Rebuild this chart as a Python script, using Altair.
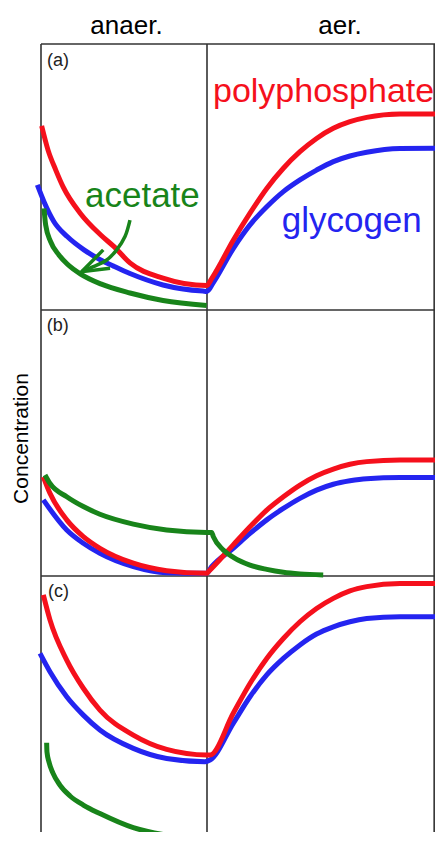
import altair as alt
import pandas as pd

# ---------------- data (x: time, anaerobic 0..1, aerobic 1..2.37; y: concentration within a panel, 0..1)
PLOT_W = 394
PLOT_H = 788
XMAX = PLOT_W / 166          # the anaerobic phase is 166 px wide
YMIN = 3 - PLOT_H / 266      # every panel is 266 px tall; the figure is cut at the bottom

a_poly_x = [0.004, 0.042, 0.089, 0.134, 0.235, 0.36, 0.44, 0.536, 0.735, 0.998, 1.03, 1.159, 1.259, 1.36, 1.46, 1.56, 1.66, 1.761, 1.861, 1.962, 2.163, 2.414]
a_poly_y = [0.692, 0.602, 0.526, 0.462, 0.365, 0.282, 0.238, 0.177, 0.120, 0.092, 0.120, 0.263, 0.364, 0.457, 0.533, 0.595, 0.645, 0.683, 0.708, 0.724, 0.737, 0.737]
a_glyc_x = [-0.022, 0.018, 0.078, 0.158, 0.259, 0.36, 0.44, 0.536, 0.735, 0.976, 1.0, 1.04, 1.159, 1.259, 1.36, 1.46, 1.56, 1.66, 1.761, 1.861, 1.962, 2.163, 2.383]
a_glyc_y = [0.470, 0.407, 0.332, 0.276, 0.226, 0.188, 0.164, 0.137, 0.094, 0.071, 0.070, 0.105, 0.232, 0.320, 0.388, 0.445, 0.489, 0.526, 0.558, 0.579, 0.593, 0.607, 0.608]
a_acet_x = [0.018, 0.028, 0.058, 0.108, 0.158, 0.239, 0.36, 0.536, 0.735, 0.998]
a_acet_y = [0.382, 0.320, 0.257, 0.207, 0.173, 0.135, 0.098, 0.064, 0.036, 0.017]

b_poly_x = [0.014, 0.054, 0.155, 0.255, 0.355, 0.556, 0.757, 0.998, 1.008, 1.158, 1.259, 1.36, 1.46, 1.56, 1.66, 1.761, 1.861, 1.962, 2.163, 2.414]
b_poly_y = [0.373, 0.311, 0.211, 0.148, 0.104, 0.048, 0.020, 0.010, 0.016, 0.117, 0.185, 0.248, 0.298, 0.342, 0.377, 0.402, 0.420, 0.430, 0.436, 0.436]
b_glyc_x = [0.014, 0.155, 0.255, 0.355, 0.556, 0.757, 0.998, 1.028, 1.158, 1.259, 1.36, 1.46, 1.56, 1.66, 1.761, 1.861, 1.962, 2.163, 2.393]
b_glyc_y = [0.286, 0.173, 0.123, 0.085, 0.035, 0.012, 0.010, 0.035, 0.104, 0.160, 0.211, 0.254, 0.292, 0.323, 0.345, 0.358, 0.366, 0.370, 0.370]
b_acet_x = [0.024, 0.054, 0.155, 0.255, 0.355, 0.556, 0.757, 0.998, 1.028, 1.038, 1.098, 1.159, 1.259, 1.36, 1.46, 1.56, 1.70]
b_acet_y = [0.380, 0.348, 0.298, 0.261, 0.232, 0.195, 0.173, 0.164, 0.164, 0.148, 0.098, 0.070, 0.041, 0.025, 0.014, 0.008, 0.004]

c_poly_x = [0.014, 0.054, 0.155, 0.255, 0.355, 0.556, 0.757, 0.998, 1.018, 1.158, 1.259, 1.36, 1.46, 1.56, 1.66, 1.761, 1.861, 1.962, 2.163, 2.414]
c_poly_y = [0.929, 0.835, 0.684, 0.578, 0.496, 0.402, 0.348, 0.327, 0.327, 0.484, 0.596, 0.690, 0.765, 0.828, 0.878, 0.916, 0.944, 0.960, 0.972, 0.972]
c_glyc_x = [-0.006, 0.054, 0.155, 0.255, 0.355, 0.556, 0.757, 0.988, 1.018, 1.158, 1.259, 1.36, 1.46, 1.56, 1.66, 1.761, 1.861, 1.962, 2.163, 2.393]
c_glyc_y = [0.709, 0.640, 0.546, 0.477, 0.421, 0.352, 0.314, 0.302, 0.308, 0.446, 0.546, 0.628, 0.690, 0.741, 0.782, 0.809, 0.828, 0.840, 0.847, 0.847]
c_acet_x = [0.034, 0.036, 0.048, 0.072, 0.114, 0.175, 0.255, 0.355, 0.556, 0.757, 0.998]
c_acet_y = [0.373, 0.338, 0.301, 0.259, 0.214, 0.173, 0.139, 0.107, 0.054, 0.026, 0.014]

# arrow in panel (a) pointing at the acetate curve
arrow_shaft_x = [0.536, 0.506, 0.456, 0.396, 0.315, 0.245]
arrow_shaft_y = [0.338, 0.276, 0.226, 0.188, 0.163, 0.144]
arrow_head_x = [0.375, 0.245, 0.416]
arrow_head_y = [0.226, 0.144, 0.157]

panel_names = ["a", "b", "c"]
panel_offsets = [2, 1, 0]
panel_label_x = [0.036, 0.034, 0.042]
panel_label_y = [0.936, 0.938, 0.938]

phase_labels = ["anaer.", "aer."]
phase_label_x = [0.512, 1.798]

series_names = ["glycogen", "polyphosphate", "acetate"]
series_colors = ["#2424f0", "#f5101c", "#18841a"]

big_labels = ["polyphosphate", "glycogen", "acetate"]
big_label_x = [1.036, 1.450, 0.265]
big_label_y = [0.783, 0.294, 0.388]

FONT = "Liberation Sans"
FRAME = "#333333"

curves = {
    ("a", "polyphosphate"): (a_poly_x, a_poly_y),
    ("a", "glycogen"): (a_glyc_x, a_glyc_y),
    ("a", "acetate"): (a_acet_x, a_acet_y),
    ("b", "polyphosphate"): (b_poly_x, b_poly_y),
    ("b", "glycogen"): (b_glyc_x, b_glyc_y),
    ("b", "acetate"): (b_acet_x, b_acet_y),
    ("c", "polyphosphate"): (c_poly_x, c_poly_y),
    ("c", "glycogen"): (c_glyc_x, c_glyc_y),
    ("c", "acetate"): (c_acet_x, c_acet_y),
}
offset_of = dict(zip(panel_names, panel_offsets))
color_of = dict(zip(series_names, series_colors))

rows = []
for (p, s), (xs, ys) in curves.items():
    for i, (xv, yv) in enumerate(zip(xs, ys)):
        rows.append({"key": p + s, "panel": p, "series": s, "x": xv, "y": offset_of[p] + yv, "i": i})
curve_df = pd.DataFrame(rows)

xscale = alt.Scale(domain=[0, XMAX], nice=False, zero=False)
yscale = alt.Scale(domain=[YMIN, 3], nice=False, zero=False)
x_axis = alt.Axis(orient="top", values=phase_label_x, title=None, grid=False, domain=False, ticks=False,
                  labelExpr="datum.value < 1 ? '" + phase_labels[0] + "' : '" + phase_labels[1] + "'",
                  labelFont=FONT, labelFontSize=26, labelColor="black", labelPadding=6, labelFlush=False)
y_axis = alt.Axis(title="Concentration", grid=False, domain=False, ticks=False, labels=False,
                  titleFont=FONT, titleFontSize=21, titleFontWeight="normal", titleColor="black", titlePadding=10)

X = lambda f="x": alt.X(f + ":Q", scale=xscale, axis=x_axis)
Y = lambda f="y": alt.Y(f + ":Q", scale=yscale, axis=y_axis)

# frame and divider rules (no bottom edge: the figure is cut there)
vrule_df = pd.DataFrame({"x": [0.0, 1.0, XMAX - 0.005], "y": [0.0, 0.0, 0.0], "y2": [3.0, 3.0, 3.0]})
hrule_df = pd.DataFrame({"x": [0.0, 0.0, 0.0], "x2": [XMAX, XMAX, XMAX], "y": [1.0, 2.0, 3.0]})
vrule = alt.Chart(vrule_df).mark_rule(color=FRAME, strokeWidth=1.6).encode(x=X(), y=Y(), y2="y2:Q")
hrule = alt.Chart(hrule_df).mark_rule(color=FRAME, strokeWidth=1.6).encode(x=X(), x2="x2:Q", y=Y())

layers = [vrule, hrule]
for s in series_names:
    layers.append(
        alt.Chart(curve_df[curve_df.series == s]).mark_line(
            color=color_of[s], strokeWidth=5, interpolate="monotone", strokeCap="butt"
        ).encode(x=X(), y=Y(), detail="key:N", order="i:Q")
    )

shaft_df = pd.DataFrame({"x": arrow_shaft_x, "y": [2 + v for v in arrow_shaft_y], "i": range(len(arrow_shaft_x))})
head_df = pd.DataFrame({"x": arrow_head_x, "y": [2 + v for v in arrow_head_y], "i": range(len(arrow_head_x))})
layers.append(alt.Chart(shaft_df).mark_line(color=color_of["acetate"], strokeWidth=3.5, interpolate="cardinal")
              .encode(x=X(), y=Y(), order="i:Q"))
layers.append(alt.Chart(head_df).mark_line(color=color_of["acetate"], strokeWidth=3.5, strokeJoin="miter")
              .encode(x=X(), y=Y(), order="i:Q"))

big_df = pd.DataFrame({"label": big_labels, "x": big_label_x, "y": [2 + v for v in big_label_y],
                       "color": [color_of["polyphosphate"], color_of["glycogen"], color_of["acetate"]],
                       "size": [34, 35, 35]})
layers.append(alt.Chart(big_df).mark_text(font=FONT, align="left", baseline="alphabetic")
              .encode(x=X(), y=Y(), text="label:N", color=alt.Color("color:N", scale=None),
                      size=alt.Size("size:Q", scale=None)))

plab_df = pd.DataFrame({"label": ["(" + p + ")" for p in panel_names], "x": panel_label_x,
                        "y": [o + v for o, v in zip(panel_offsets, panel_label_y)]})
layers.append(alt.Chart(plab_df).mark_text(font=FONT, fontSize=18, align="left", baseline="middle", color="#222222")
              .encode(x=X(), y=Y(), text="label:N"))

chart = alt.layer(*layers).properties(
    width=PLOT_W, height=PLOT_H,
    autosize=alt.AutoSizeParams(type="none"),
    padding={"left": 33, "top": 36, "right": 0, "bottom": 0},
).configure_view(stroke=None)

chart.save("out.html", embed_options={"renderer": "svg", "actions": False})
